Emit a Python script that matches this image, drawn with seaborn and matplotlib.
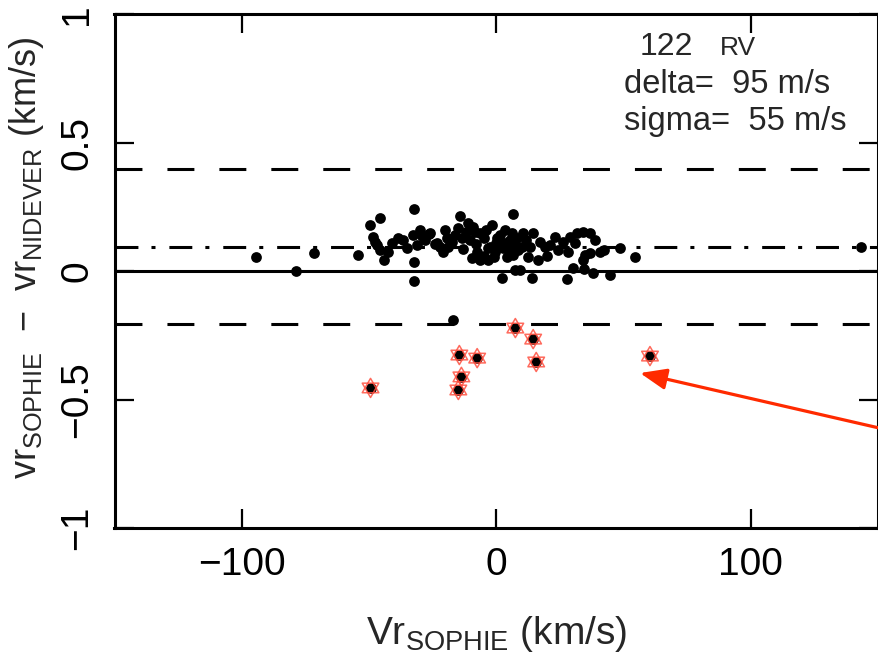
import matplotlib
matplotlib.use("Agg")
import matplotlib.pyplot as plt
import seaborn as sns
import pandas as pd
from matplotlib.path import Path

# ---------------- data ----------------
vr_sophie = [
    -94.5, -78.8, -71.8, -54.5, -49.8, -45.5, -48.6, -46.7, -44.3, -42.7,
    -38.8, -36.5, -32.5, -29.8, -26.3, -32.5, -32.5, -22.0, -18.8, -32.9,
    -31.0, -47.5, -45.5, -40.8, -34.9, -27.8, -23.9, -29.0,
    -25.9, -23.1, -20.8, -17.3, -14.1, -11.0, -9.0, -13.3, -12.9, -7.5,
    -6.3, -3.1, -6.3, -1.6, 0.4, 3.5, 6.7, 6.3, 4.3, 6.7,
    10.2, 10.6, 12.5, 14.5, 16.5, 19.2, 23.1, 26.3, 29.0, 31.8,
    34.1, 36.9, 28.2, 34.9, 34.1, 36.9, 40.8, 54.5, 2.4, 7.5,
    9.4, 14.1, 27.8, 30.2, 34.5, 38.0, 44.7,
    -10.2, -7.8, -4.7, -2.4, -0.4, 1.6, 3.5, 5.5, 7.5, 8.6,
    1.6, -3.9, -8.2, -16.1, -14.9, -19.2, -11.8, -0.8, 5.1, 11.8,
    13.3, 17.3, 21.2, 24.3, 31.0, 38.8, 42.4, 48.6, -20.0, -9.4,
    -3.1, 0.0, 2.5, -5.0, 8.0, 20.0,
    -16.9, 143.5,
]
dvr = [
    0.054, 0.000, 0.070, 0.062, 0.179, 0.206, 0.132, 0.101, 0.043, 0.074,
    0.128, 0.121, 0.241, 0.160, 0.144, 0.035, -0.039, 0.093, 0.093, 0.140,
    0.101, 0.113, 0.082, 0.109, 0.089, 0.121, 0.105, 0.136,
    0.148, 0.109, 0.074, 0.113, 0.214, 0.187, 0.171, 0.128, 0.086, 0.074,
    0.043, 0.043, 0.148, 0.179, 0.128, 0.109, 0.222, 0.148, 0.054, 0.062,
    0.093, 0.148, 0.054, 0.148, 0.043, 0.093, 0.132, 0.113, 0.132, 0.148,
    0.152, 0.148, 0.074, 0.062, 0.043, 0.070, 0.074, 0.054, -0.027, 0.004,
    0.004, -0.027, -0.031, 0.012, 0.008, -0.008, -0.016,
    0.121, 0.105, 0.128, 0.093, 0.074, 0.101, 0.160, 0.121, 0.101, 0.082,
    0.140, 0.160, 0.152, 0.140, 0.167, 0.128, 0.152, 0.054, 0.082, 0.121,
    0.093, 0.113, 0.101, 0.082, 0.109, 0.121, 0.082, 0.089, 0.160, 0.051,
    0.089, 0.110, 0.090, 0.060, 0.130, 0.060,
    -0.191, 0.093,
]
# flagged outliers (starred)
out_x = [-49.4, -14.5, -13.7, -14.9, -7.5, 7.5, 14.5, 15.7, 60.4]
out_y = [-0.455, -0.327, -0.412, -0.463, -0.339, -0.222, -0.265, -0.354, -0.331]

delta = 0.095
sigma = 0.055
n_rv = 122
cut = 0.30

x_ticks = [-100, 0, 100]
y_ticks = [-1, -0.5, 0, 0.5, 1]
y_ticklabels = ["\u22121", "\u22120.5", "0", "0.5", "1"]
x_ticklabels = ["\u2212100", "0", "100"]

arrow_tip = (56.5, -0.397)
arrow_tail = (150.5, -0.611)

# ---------------- style ----------------
sns.set_style("ticks")
plt.rcParams["font.family"] = ["Liberation Sans", "DejaVu Sans"]
plt.rcParams["mathtext.fontset"] = "custom"
plt.rcParams["mathtext.rm"] = "Liberation Sans"
plt.rcParams["mathtext.default"] = "regular"
plt.rcParams["lines.scale_dashes"] = False

fig = plt.figure(figsize=(8.79, 6.64), dpi=100)
ax = fig.add_axes([114.5 / 879, 136 / 664, (878 - 114.5) / 879, 514 / 664])

df = pd.DataFrame({"x": vr_sophie + out_x, "y": dvr + out_y})
sns.scatterplot(data=df, x="x", y="y", ax=ax, color="black", s=60,
                linewidth=0, zorder=3, clip_on=False)

tri_up = Path([(0, 1), (-0.866, -0.5), (0.866, -0.5), (0, 1)],
              [Path.MOVETO, Path.LINETO, Path.LINETO, Path.CLOSEPOLY])
tri_dn = Path([(0, -1), (-0.866, 0.5), (0.866, 0.5), (0, -1)],
              [Path.MOVETO, Path.LINETO, Path.LINETO, Path.CLOSEPOLY])
dfo = pd.DataFrame({"x": out_x, "y": out_y})
for m in (tri_up, tri_dn):
    sns.scatterplot(data=dfo, x="x", y="y", ax=ax, marker=m, s=190,
                    facecolor="none", edgecolor="#ff5040", linewidth=1.1,
                    alpha=0.85, zorder=4)

# reference lines
ax.axhline(0, color="black", lw=2.2, zorder=2)
ax.axhline(delta, color="black", lw=2.2, dashes=(16.5, 9.4, 2.9, 10.0), zorder=2)
ax.axhline(delta + cut, color="black", lw=2.2, dashes=(19.4, 18.0), zorder=2)
ax.axhline(delta - cut, color="black", lw=2.2, dashes=(19.4, 18.0), zorder=2)

ax.annotate("", xy=arrow_tip, xytext=arrow_tail, annotation_clip=False,
            arrowprops=dict(arrowstyle="-|>,head_length=0.8,head_width=0.32",
                            color="#ff2a00", lw=2.3, mutation_scale=20,
                            shrinkA=0, shrinkB=0))

ax.set_xlim(-150, 150)
ax.set_ylim(-1, 1)
ax.set_xticks(x_ticks)
ax.set_xticklabels(x_ticklabels)
ax.set_yticks(y_ticks)
ax.set_yticklabels(y_ticklabels, rotation=90, va="center")
ax.tick_params(direction="in", length=14, width=1.6, labelsize=28, pad=14,
               top=True, right=True, color="black", labelcolor="black")
for sp in ax.spines.values():
    sp.set_visible(True)
    sp.set_linewidth(2.2)
    sp.set_color("black")

ax.set_xlabel("Vr$_{SOPHIE}$ (km/s)", fontsize=28, labelpad=22)
ax.set_ylabel("vr$_{SOPHIE}$  \u2212  vr$_{NIDEVER}$ (km/s)", fontsize=26,
              labelpad=8)
ax.yaxis.set_label_coords(-0.09, 0.525)

# annotation text
tr = ax.transData
ax.text(56.5, 0.84, f"{n_rv}", fontsize=23, transform=tr, va="baseline")
ax.text(88.0, 0.84, "RV", fontsize=19, transform=tr, va="baseline")
ax.text(50.0, 0.693, f"delta=  {delta*1000:.0f} m/s", fontsize=23.5,
        transform=tr, va="baseline")
ax.text(50.0, 0.548, f"sigma=  {sigma*1000:.0f} m/s", fontsize=23.5,
        transform=tr, va="baseline")

fig.savefig("out.png", dpi=100)
